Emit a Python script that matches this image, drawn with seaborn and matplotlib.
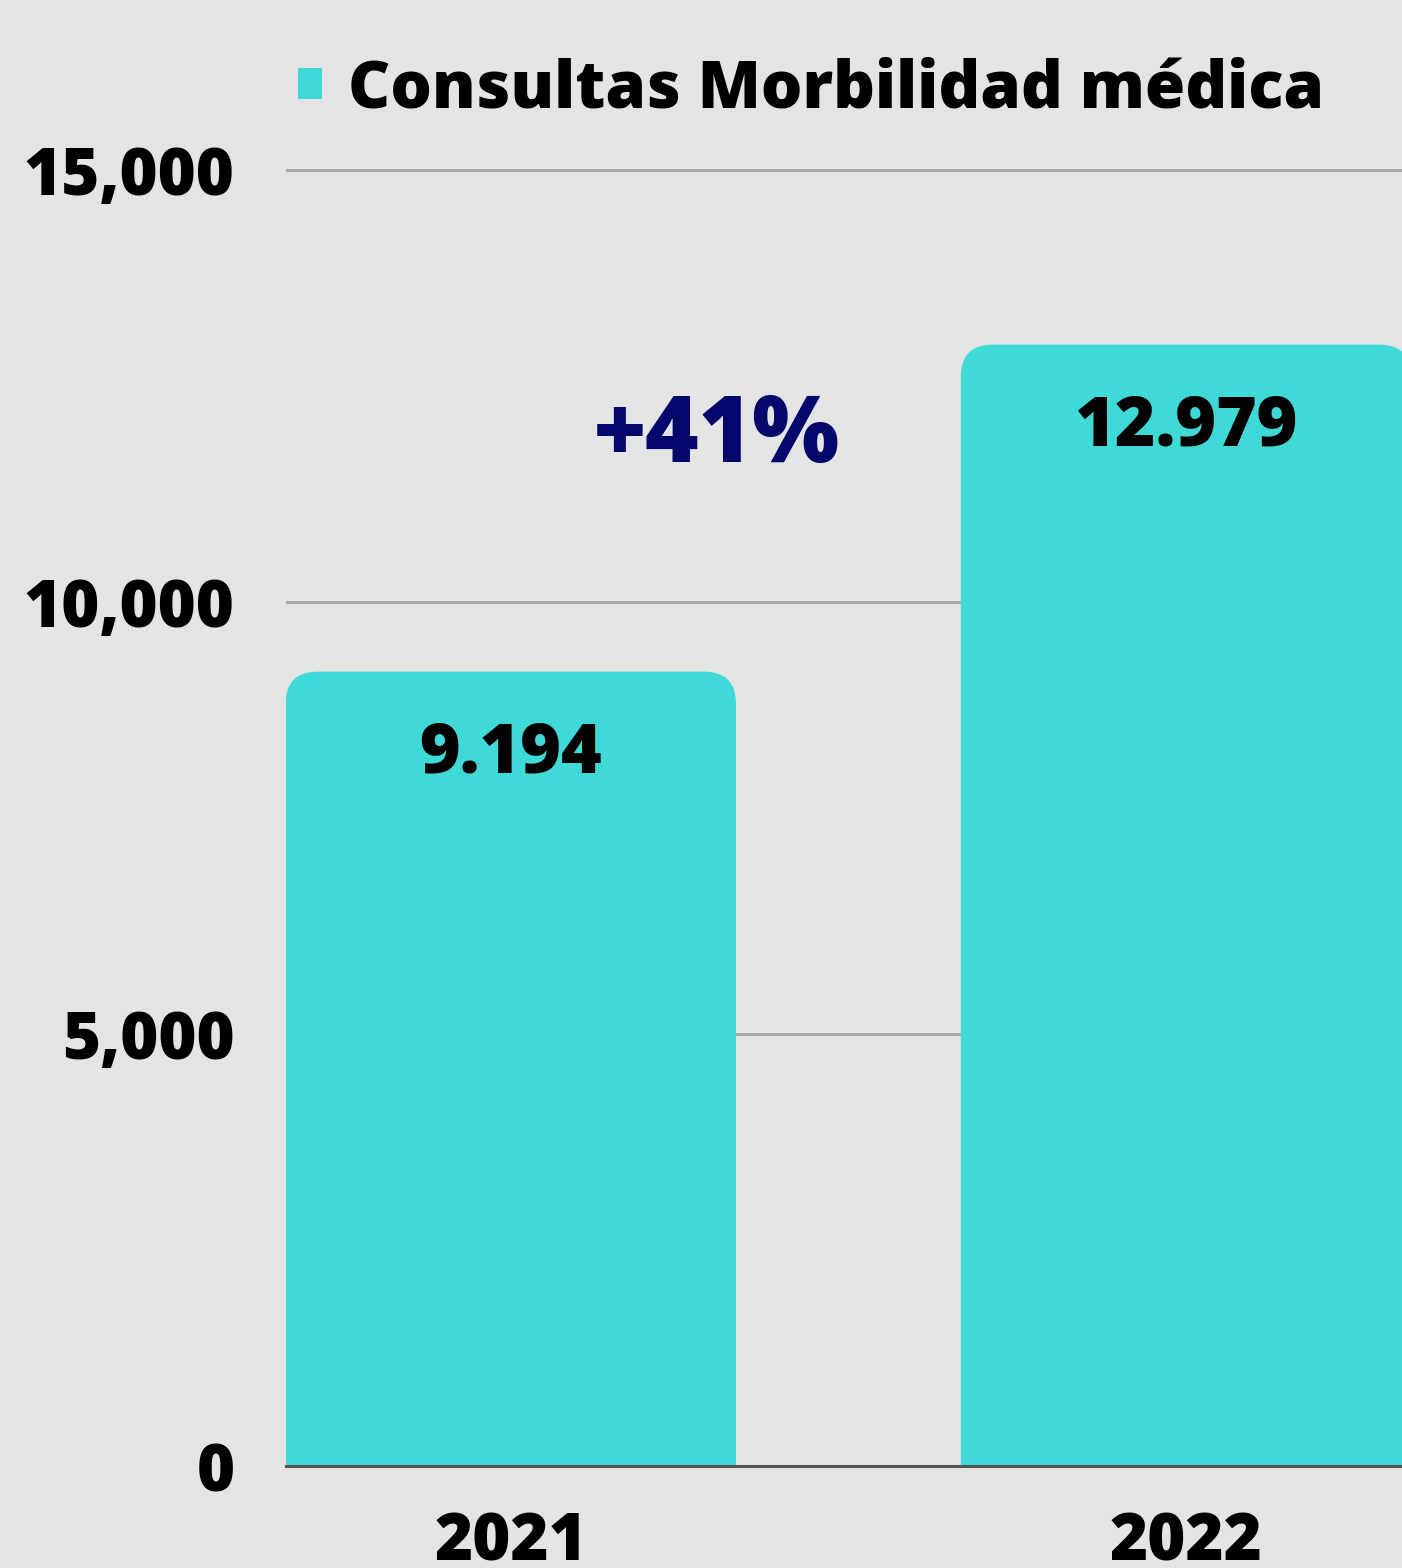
import matplotlib.pyplot as plt
import numpy as np
import pandas as pd
import seaborn as sns
from matplotlib.patches import FancyBboxPatch
from matplotlib.ticker import FuncFormatter

years = ["2021", "2022"]
consultas = [9194, 12979]
serie = "Consultas Morbilidad médica"

bg = "#e4e4e4"
bar_color = "#3fdad8"

sns.set_theme(style="white")
plt.rcParams["font.family"] = ["Open Sans", "DejaVu Sans"]
plt.rcParams["font.weight"] = "heavy"

df = pd.DataFrame({"year": years, "consultas": consultas, "serie": serie})

fig = plt.figure(figsize=(14.02, 15.68), dpi=100, facecolor=bg)
ax = fig.add_axes([286 / 1402, 1 - 1466 / 1568, 1 - 286 / 1402, (1466 - 126.8) / 1568])
ax.set_facecolor(bg)

sns.barplot(
    data=df, x="year", y="consultas", hue="serie", palette=[bar_color],
    width=0.667, ax=ax, zorder=2, legend=True,
)

# swap plain bars for rounded ones (bottom rounding hidden below zero)
rx, ry = 0.0474, 370
for p in list(ax.patches):
    if p.get_height() <= 0:
        continue
    x0, w, h = p.get_x(), p.get_width(), p.get_height()
    p.set_visible(False)
    ax.add_patch(FancyBboxPatch(
        (x0, -ry), w, h + ry,
        boxstyle=f"round,pad=0,rounding_size={rx}",
        mutation_aspect=ry / rx, fc=bar_color, ec="none", zorder=2,
    ))

ax.set_xlim(-0.333, 1.32)
ax.set_ylim(0, 15500)
ax.set_yticks([0, 5000, 10000, 15000])
ax.yaxis.set_major_formatter(FuncFormatter(lambda v, _: f"{int(v):,}"))
ax.yaxis.grid(True, color="#aaaaaa", lw=2.2, zorder=0)
ax.set_axisbelow(True)
for s in ["top", "right", "left"]:
    ax.spines[s].set_visible(False)
ax.spines["bottom"].set_color("#555555")
ax.spines["bottom"].set_linewidth(2.2)
ax.spines["bottom"].set_zorder(3)
ax.tick_params(axis="y", length=0, pad=37, labelsize=47, labelcolor="black")
ax.tick_params(axis="x", length=0, pad=32, labelsize=47, labelcolor="black")
for t in ax.get_xticklabels() + ax.get_yticklabels():
    t.set_fontweight("heavy")
ax.set_xlabel("")
ax.set_ylabel("")

for i, v in enumerate(consultas):
    ax.text(i, v - 960, f"{v:,}".replace(",", "."), ha="center", va="center",
            fontsize=50, fontweight="heavy", color="black", zorder=4)

growth = (consultas[1] / consultas[0] - 1) * 100
ax.text(0.305, 11900, f"+{growth:.0f}%", ha="center", va="center",
        fontsize=66, fontweight="heavy", color="#03066b", zorder=4)

leg = ax.legend(
    loc="center left", bbox_to_anchor=(298 / 1402, 1 - 90 / 1568),
    bbox_transform=fig.transFigure, frameon=False, borderpad=0,
    borderaxespad=0, handlelength=0.37, handleheight=0.37,
    handletextpad=0.4, prop={"size": 47, "weight": "heavy"},
    labelcolor="black",
)
for h in leg.legend_handles:
    h.set_facecolor(bar_color)
    h.set_edgecolor("none")
    h.set_alpha(1)

fig.savefig("out.png", dpi=100, facecolor=bg)
